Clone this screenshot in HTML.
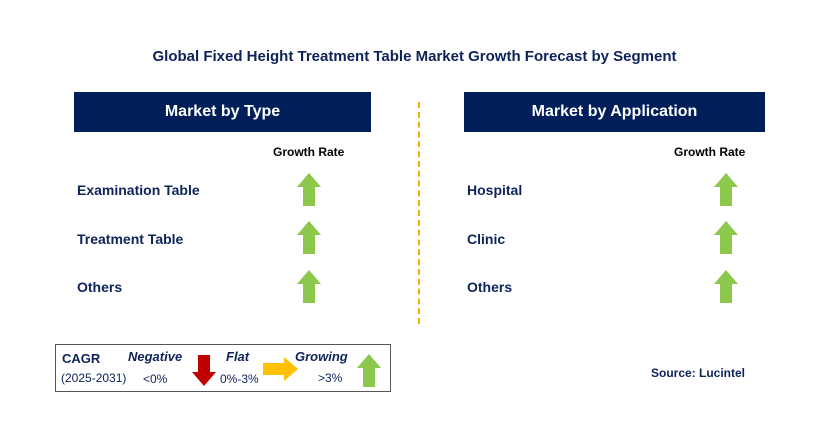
<!DOCTYPE html>
<html><head><meta charset="utf-8"><style>
body{margin:0;background:#fff;}
#c{position:relative;width:829px;height:437px;overflow:hidden;font-family:"Liberation Sans",Arial,sans-serif;}
.a{position:absolute;}
.hdr{position:absolute;background:#001e5a;color:#fff;font-weight:bold;font-size:16px;text-align:center;line-height:40px;height:40px;top:92px;}
.lbl{position:absolute;color:#0d2359;font-weight:bold;font-size:14px;}
.gr{position:absolute;color:#000;font-weight:bold;font-size:12px;}
.t{position:absolute;font-size:12px;color:#0d2359;}
</style></head><body>
<div id="c">
<div class="a" style="left:0;width:829px;top:48px;text-align:center;font-weight:bold;font-size:15px;color:#0d2359;">Global Fixed Height Treatment Table Market Growth Forecast by Segment</div>
<div class="hdr" style="left:74px;width:297px;">Market by Type</div>
<div class="hdr" style="left:464px;width:301px;">Market by Application</div>
<div class="a" style="left:418px;top:102px;height:222px;border-left:2px dashed #f0b400;"></div>
<div class="gr" style="left:273px;top:145px;">Growth Rate</div>
<div class="gr" style="left:674px;top:145px;">Growth Rate</div>
<div class="lbl" style="left:77px;top:182px;">Examination Table</div>
<div class="lbl" style="left:77px;top:231px;">Treatment Table</div>
<div class="lbl" style="left:77px;top:279px;">Others</div>
<div class="lbl" style="left:467px;top:182px;">Hospital</div>
<div class="lbl" style="left:467px;top:231px;">Clinic</div>
<div class="lbl" style="left:467px;top:279px;">Others</div>
<svg class="a" style="left:0;top:0" width="829" height="437">
<defs><polygon id="up" points="12,0 24,14 18,14 18,33 6,33 6,14 0,14" fill="#8cc84b"/></defs>
<use href="#up" x="297" y="173"/>
<use href="#up" x="297" y="221"/>
<use href="#up" x="297" y="270"/>
<use href="#up" x="714" y="173"/>
<use href="#up" x="714" y="221"/>
<use href="#up" x="714" y="270"/>
<rect x="55.5" y="344.5" width="335" height="47" fill="none" stroke="#555" stroke-width="1"/>
<polygon points="198,355 210,355 210,372 216,372 204,386 192,372 198,372" fill="#c00000"/>
<polygon points="263,363 284,363 284,357 298,369 284,381 284,375 263,375" fill="#ffc000"/>
<use href="#up" x="357" y="354"/>
</svg>
<div class="t" style="left:62px;top:351px;font-weight:bold;font-size:13px;">CAGR</div>
<div class="t" style="left:61px;top:371px;">(2025-2031)</div>
<div class="t" style="left:128px;top:349px;font-weight:bold;font-style:italic;font-size:13px;">Negative</div>
<div class="t" style="left:143px;top:372px;">&lt;0%</div>
<div class="t" style="left:226px;top:349px;font-weight:bold;font-style:italic;font-size:13px;">Flat</div>
<div class="t" style="left:220px;top:372px;">0%-3%</div>
<div class="t" style="left:295px;top:349px;font-weight:bold;font-style:italic;font-size:13px;">Growing</div>
<div class="t" style="left:318px;top:371px;">&gt;3%</div>
<div class="a" style="left:651px;top:366px;font-weight:bold;font-size:12px;color:#0d2359;">Source: Lucintel</div>
</div>
</body></html>
